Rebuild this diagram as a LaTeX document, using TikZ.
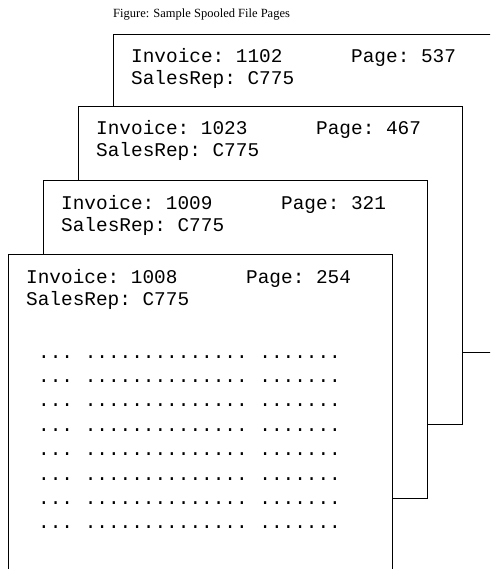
\documentclass[tikz,border=0pt]{standalone}
\usepackage{fontspec}
\setmainfont{Liberation Serif}
\setmonofont{Liberation Mono}
\tikzset{
  page/.style={draw, fill=white, line width=1.2pt, minimum width=384pt,
    minimum height=318pt, anchor=north west, inner sep=0pt},
  rec/.style={anchor=base west, inner sep=0pt, font=\fontsize{19.4}{22}\ttfamily},
}
\begin{document}
\begin{tikzpicture}[x=1pt,y=-1pt]
    \useasboundingbox (0,0) rectangle (490,569);
    \clip (0,0) rectangle (490,569);
    \node[anchor=base west, inner sep=0pt, font=\fontsize{12.5}{14}\selectfont] (title) at (113,18) {Figure: Sample Spooled File Pages};
    % pages, back to front
    \foreach \i/\px/\py/\inv/\pg in {1/113/34/1102/537, 2/78/106/1023/467, 3/43/180/1009/321, 4/8/254/1008/254} {
        \node[page] (p\i) at (\px,\py) {};
        \node[rec] (inv\i) at ([shift={(18pt,-29pt)}]p\i.north west) {Invoice: \inv};
        \node[rec] (pg\i) at ([shift={(238pt,-29pt)}]p\i.north west) {Page: \pg};
        \node[rec] (rep\i) at ([shift={(18pt,-51pt)}]p\i.north west) {SalesRep: C775};
    }
    \foreach \r in {0,...,7}
        \node[rec] (dots\r) at ([shift={(30pt,{-104pt-24.4pt*\r})}]p4.north west) {... .............. .......};
\end{tikzpicture}
\end{document}
